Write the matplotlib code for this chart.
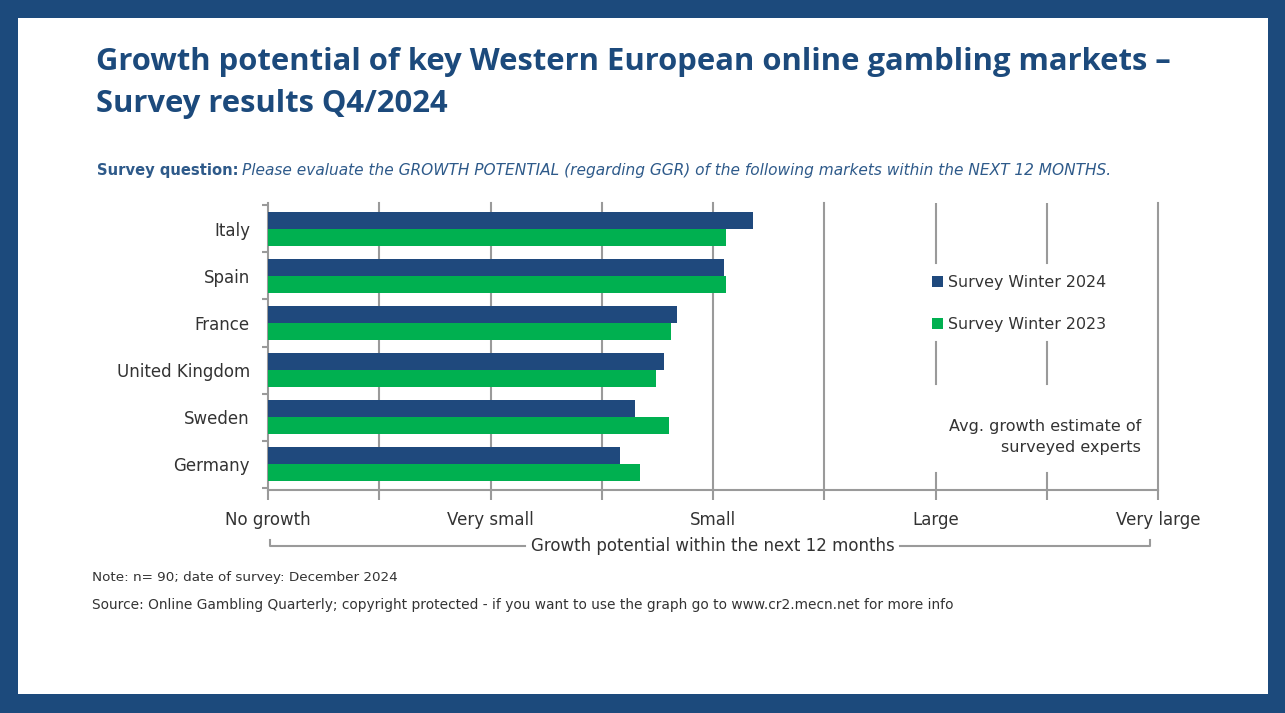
import matplotlib.pyplot as plt
import numpy as np
from matplotlib.patches import Rectangle

markets = ["Italy", "Spain", "France", "United Kingdom", "Sweden", "Germany"]
winter_2024 = [2.18, 2.05, 1.84, 1.78, 1.65, 1.58]
winter_2023 = [2.06, 2.06, 1.81, 1.745, 1.80, 1.67]
scale_labels = ["No growth", "Very small", "Small", "Large", "Very large"]

NAVY = "#1f497d"
GREEN = "#00b050"
FRAME = "#1c4a7c"
GRID = "#9a9a9a"
TXT = "#333333"
COND = "DejaVu Sans Condensed"

W, H = 1285, 713
fig = plt.figure(figsize=(W / 100, H / 100), dpi=100)
fig.patch.set_facecolor(FRAME)

def fx(px):
    return px / W

def fy(py):
    return 1 - py / H

# white slide inside the blue frame
fig.patches.append(Rectangle((fx(18), fy(694)), fx(1268) - fx(18), fy(18) - fy(694),
                             transform=fig.transFigure, facecolor="white",
                             edgecolor="none", zorder=-5))

fig.text(fx(96), fy(62), "Growth potential of key Western European online gambling markets \u2013",
         fontsize=22.3, fontweight="bold", color=FRAME, family="Open Sans", va="center")
fig.text(fx(96), fy(104), "Survey results Q4/2024",
         fontsize=22.3, fontweight="bold", color=FRAME, family="Open Sans", va="center")

bold = fig.text(fx(97), fy(170), "Survey question:", fontsize=10.6, fontweight="bold",
                color="#2e5a8a", family=COND, va="center")
fig.canvas.draw()
bb = bold.get_window_extent()
fig.text(bb.x1 / W + fx(3), fy(170),
         "Please evaluate the GROWTH POTENTIAL (regarding GGR) of the following markets within the NEXT 12 MONTHS.",
         fontsize=11.1, style="italic", color="#2e5a8a", family=COND, va="center")

ax = fig.add_axes([fx(268), fy(490), fx(1158) - fx(268), fy(203) - fy(490)])
ax.set_zorder(2)
ax.patch.set_alpha(0)
y = np.arange(len(markets))
h = 0.36
ax.barh(y - h / 2, winter_2024, height=h, color=NAVY, label="Survey Winter 2024", zorder=3)
ax.barh(y + h / 2, winter_2023, height=h, color=GREEN, label="Survey Winter 2023", zorder=3)

ax.set_xlim(0, 4)
ax.set_ylim(5.553, -0.553)

# vertical grid, broken behind the legend and the note on the right
for xv in np.arange(0.5, 4.01, 0.5):
    if xv in (3.0, 3.5):
        for y0, y1 in [(203, 263), (342, 384), (473, 490)]:
            ax.axvline(xv, ymin=(490 - y1) / 287, ymax=(490 - y0) / 287,
                       color=GRID, lw=1.5, zorder=1)
    else:
        ax.axvline(xv, color=GRID, lw=1.5, zorder=1, clip_on=False)

for s in ["top", "right"]:
    ax.spines[s].set_visible(False)
for s in ["left", "bottom"]:
    ax.spines[s].set_color(GRID)
    ax.spines[s].set_linewidth(1.5)

ax.set_xticks(np.arange(0, 4.01, 0.5))
ax.set_xticklabels([scale_labels[int(v)] if v == int(v) else "" for v in np.arange(0, 4.01, 0.5)],
                   fontsize=12, color=TXT, family=COND)
ax.tick_params(axis="x", length=7, width=1.5, color=GRID, pad=8)
ax.set_yticks(y)
ax.set_yticklabels(markets, fontsize=12, color=TXT, family=COND)
ax.tick_params(axis="y", length=0, pad=13)
ax.set_yticks(np.arange(-0.5, 6, 1), minor=True)
ax.tick_params(axis="y", which="minor", length=4, width=1.5, color=GRID)

leg = ax.legend(loc="upper left", bbox_to_anchor=((919 - 268) / 890, (490 - 262) / 287),
                frameon=True, facecolor="white", edgecolor="none", framealpha=1,
                handlelength=0.7, handleheight=0.7, handletextpad=0.3,
                labelspacing=1.75, borderpad=0.3, prop={"family": COND, "size": 11.4})
for txt in leg.get_texts():
    txt.set_color(TXT)

ax.text((1141 - 268) / 890 * 4, 5.553 - (490 - 437) / 47, "Avg. growth estimate of\nsurveyed experts",
        ha="right", va="center", fontsize=11.5, color=TXT, family=COND,
        linespacing=1.5, backgroundcolor="white", zorder=4)

# bracket under the scale
fig.add_artist(plt.Line2D([fx(270), fx(270), fx(525)], [fy(540), fy(546), fy(546)],
                          color=GRID, lw=1.5))
fig.add_artist(plt.Line2D([fx(900), fx(1150), fx(1150)], [fy(546), fy(546), fy(540)],
                          color=GRID, lw=1.5))
fig.text(fx(713), fy(546), "Growth potential within the next 12 months", ha="center", va="center",
         fontsize=12, color=TXT, family=COND)

fig.text(fx(92), fy(578), "Note: n= 90; date of survey: December 2024", fontsize=9.7,
         color=TXT, family=COND, va="center")
fig.text(fx(92), fy(605),
         "Source: Online Gambling Quarterly; copyright protected - if you want to use the graph go to www.cr2.mecn.net for more info",
         fontsize=9.9, color=TXT, family=COND, va="center")

fig.savefig("out.png", dpi=100, facecolor=FRAME)
